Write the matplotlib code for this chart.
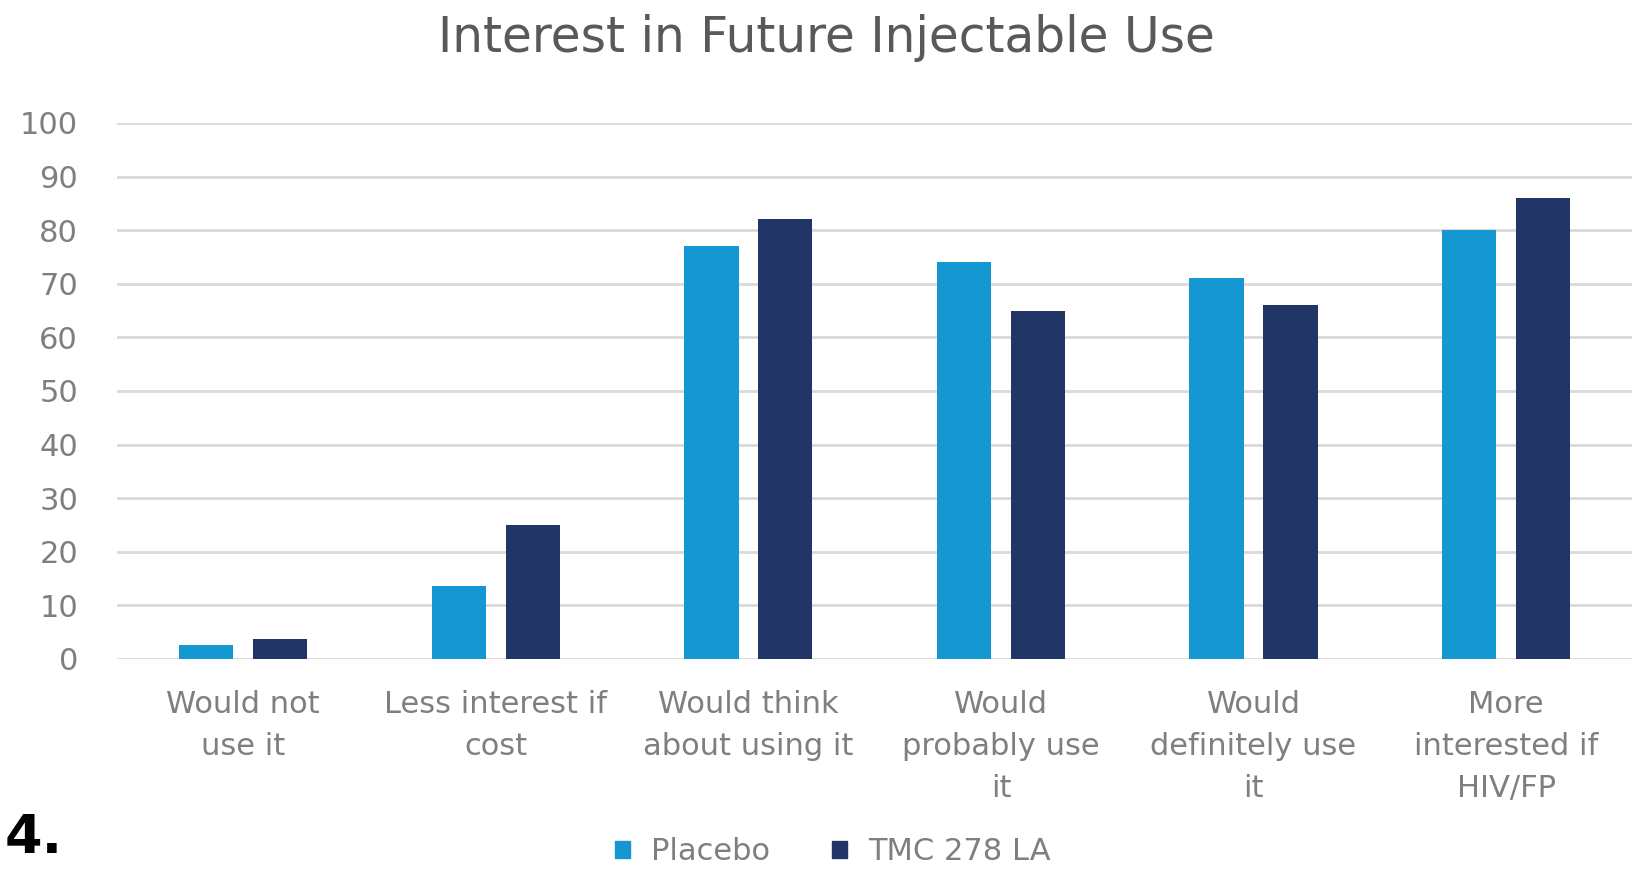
import numpy as np
import matplotlib
matplotlib.use("Agg")
import matplotlib.pyplot as plt
from matplotlib.patches import Patch

# survey responses, percent of participants
categories = ["Would not\nuse it", "Less interest if\ncost", "Would think\nabout using it",
              "Would\nprobably use\nit", "Would\ndefinitely use\nit", "More\ninterested if\nHIV/FP"]
placebo = [2.6, 13.6, 77, 74, 71, 80]
tmc278 = [3.8, 25, 82, 65, 66, 86]
series_names = ["Placebo", "TMC 278 LA"]
yticks = [0, 10, 20, 30, 40, 50, 60, 70, 80, 90, 100]

c_placebo = "#1597d2"
c_tmc = "#213566"
grey = "#7f7f7f"

plt.rcParams['font.family'] = ['DejaVu Sans']

fig = plt.figure(figsize=(16.33, 8.69), dpi=100)
ax = fig.add_axes([0.0716, 0.2417, 0.928, 0.6168])

x = np.arange(len(categories))
w = 0.215
ax.bar(x - 0.146, placebo, w, color=c_placebo, zorder=3)
ax.bar(x + 0.146, tmc278, w, color=c_tmc, zorder=3)

ax.set_xlim(-0.5, len(categories) - 0.5)
ax.set_ylim(0, 100)
ax.set_yticks(yticks)
ax.yaxis.grid(True, color="#d9d9d9", linewidth=2.0, zorder=0)
ax.set_axisbelow(True)
for s in ax.spines.values():
    s.set_visible(False)
ax.tick_params(axis="y", length=0, pad=28, labelsize=22, labelcolor=grey)
ax.tick_params(axis="x", length=0, pad=22, labelsize=22, labelcolor=grey)
ax.set_xticks(x)
ax.set_xticklabels(categories, linespacing=1.58)
for lbl in ax.get_yticklabels():
    lbl.set_clip_on(False)

fig.text(0.506, 0.940, "Interest in Future Injectable Use", ha="center", va="baseline",
         fontsize=35, color="#595959")

handles = [Patch(color=c_placebo), Patch(color=c_tmc)]
fig.legend(handles, series_names, loc="center", bbox_to_anchor=(0.51, 0.02), ncol=2,
           frameon=False, fontsize=22, labelcolor=grey, handlelength=0.5, handleheight=0.5,
           handletextpad=0.7, columnspacing=2.0)

fig.text(0.003, 0.018, "4.", ha="left", va="baseline", fontsize=39, fontweight="bold",
         color="black")

fig.savefig("out.png", dpi=100)
